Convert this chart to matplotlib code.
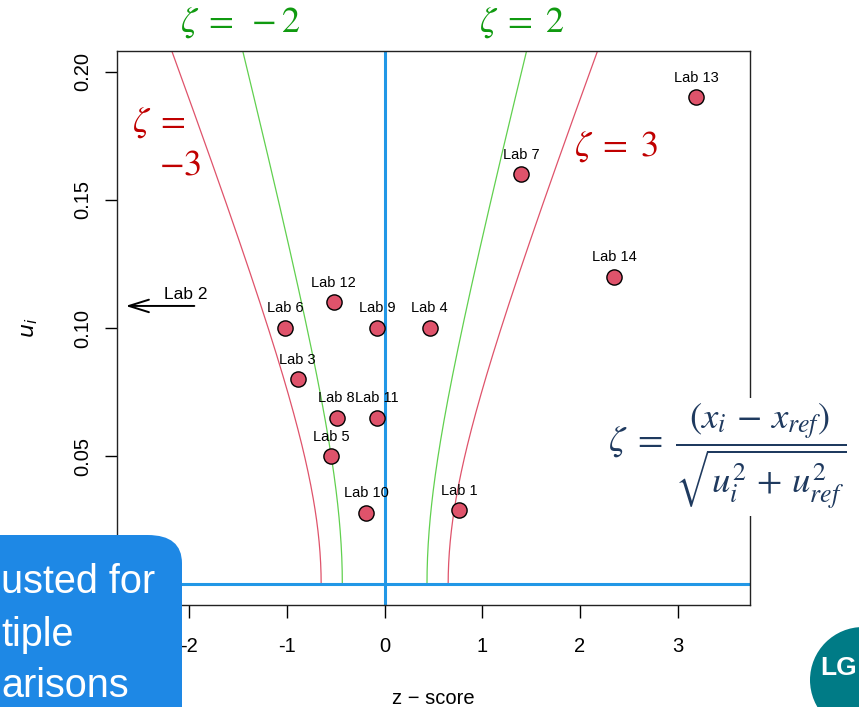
import numpy as np
import matplotlib.pyplot as plt
from matplotlib.patches import FancyBboxPatch, Ellipse

plt.rcParams['font.family'] = ['Liberation Sans', 'DejaVu Sans']
plt.rcParams['mathtext.fontset'] = 'stix'
plt.rcParams['axes.unicode_minus'] = False

# lab results: z-score and standard uncertainty u_i
labs = ['Lab 1', 'Lab 3', 'Lab 4', 'Lab 5', 'Lab 6', 'Lab 7', 'Lab 8',
        'Lab 9', 'Lab 10', 'Lab 11', 'Lab 12', 'Lab 13', 'Lab 14']
z_score = [0.76, -0.89, 0.46, -0.55, -1.02, 1.40, -0.49,
           -0.08, -0.19, -0.08, -0.52, 3.19, 2.35]
u_i = [0.029, 0.080, 0.100, 0.050, 0.100, 0.160, 0.065,
       0.100, 0.028, 0.065, 0.110, 0.190, 0.120]

# Lab 2 lies off the left edge
lab2_u = 0.1086
lab2_arrow = (-1.92, -2.68)

# zeta contour parameters
sigma_pt = 0.30
u_ref = 0.065
zeta_levels = [2, 3]
zeta_colors = {2: '#61D04F', 3: '#DF536B'}

fig = plt.figure(figsize=(8.59, 7.07), dpi=100)
ax = fig.add_axes([117/859, 1-605/707, 633/859, 554/707])

u_grid = np.linspace(0, 0.208, 200)
for zl in zeta_levels:
    zc = zl * np.sqrt(u_grid**2 + u_ref**2) / sigma_pt
    ax.plot(zc, u_grid, color=zeta_colors[zl], lw=0.9)
    ax.plot(-zc, u_grid, color=zeta_colors[zl], lw=0.9)

ax.axvline(0, color='#2297E6', lw=2.2)
ax.axhline(0, color='#2297E6', lw=2.2)

ax.scatter(z_score, u_i, s=120, color='#DF536B', edgecolor='black',
           linewidth=1.0, zorder=5)
for name, x, y in zip(labs, z_score, u_i):
    ax.annotate(name, (x, y), xytext=(0, 9), textcoords='offset points',
                ha='center', va='bottom', fontsize=10.5)

ax.annotate('', xy=(lab2_arrow[1], lab2_u), xytext=(lab2_arrow[0], lab2_u),
            arrowprops=dict(arrowstyle='->,head_length=0.8,head_width=0.25',
                            lw=1.4, color='black', mutation_scale=18))
ax.text(-2.04, lab2_u + 0.0015, 'Lab 2', ha='center', va='bottom', fontsize=12.5)

ax.set_xlim(-2.74, 3.74)
ax.set_ylim(-0.008, 0.208)
ax.set_xticks([-2, -1, 0, 1, 2, 3])
ax.set_yticks([0.05, 0.10, 0.15, 0.20])
ax.set_yticklabels(['0.05', '0.10', '0.15', '0.20'], rotation=90, va='center')
ax.tick_params(direction='out', length=9, width=1, labelsize=14.5)
ax.tick_params(axis='x', pad=14)
ax.tick_params(axis='y', pad=9)
for sp in ax.spines.values():
    sp.set_linewidth(1.0)
    sp.set_color('#222222')
ax.set_xlabel('z − score', fontsize=14.5, labelpad=24)
ax.set_ylabel('$u_i$', fontsize=16, labelpad=24, math_fontfamily='dejavusans')

# slide overlays
fig.text(240/859, 1-23/707, r'$\zeta\;=\;-2$', color='#109A10', fontsize=26,
         ha='center', va='center')
fig.text(522/859, 1-23/707, r'$\zeta\;=\;2$', color='#109A10', fontsize=26,
         ha='center', va='center')
fig.text(159/859, 1-123/707, r'$\zeta\;=$', color='#C00000', fontsize=26,
         ha='center', va='center')
fig.text(180/859, 1-165/707, r'$-3$', color='#C00000', fontsize=26,
         ha='center', va='center')
fig.text(616/859, 1-146/707, r'$\zeta\;=\;3$', color='#C00000', fontsize=26,
         ha='center', va='center')

fig.text(727/859, 1-457/707,
         r'$\zeta\;=\;\dfrac{(x_i\,-\,x_{ref})}{\sqrt{u_i^2\,+\,u_{ref}^2}}$',
         color='#1F3A5F', fontsize=26.5, ha='center', va='center',
         bbox=dict(facecolor='white', edgecolor='none', pad=3))

box = FancyBboxPatch((-40/859, -0.05), 222/859, (707-535)/707 + 0.05,
                     boxstyle='round,pad=0,rounding_size=0.04',
                     transform=fig.transFigure, facecolor='#1E88E5',
                     edgecolor='none', zorder=10)
fig.patches.append(box)
# only the visible right part of the box caption
for txt, yy in [('usted for', 582), ('tiple', 635), ('arisons', 686)]:
    fig.text(1/859, 1-yy/707, txt, color='white', fontsize=28.5,
             ha='left', va='center', zorder=11)

logo = Ellipse((863/859, 1-680/707), 2*53/859, 2*53/707,
               transform=fig.transFigure, facecolor='#007B86', edgecolor='none')
fig.patches.append(logo)
fig.text(820/859, 1-668/707, 'LG', color='white', fontsize=19,
         fontweight='bold', ha='left', va='center')

fig.savefig('out.png', dpi=100)
